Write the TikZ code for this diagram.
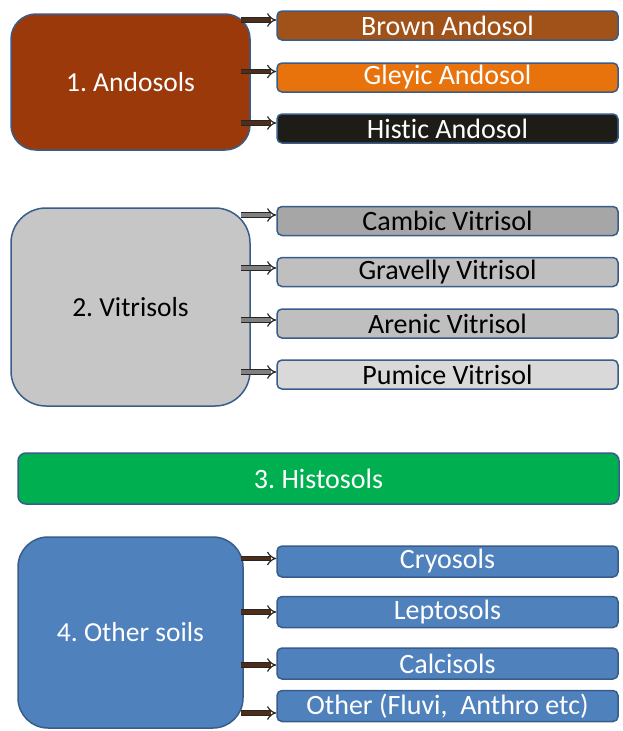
\documentclass[tikz,border=0pt]{standalone}
\usepackage{fontspec}
\setmainfont[Ligatures=NoCommon]{Carlito}
\frenchspacing
\usetikzlibrary{arrows.meta}
\definecolor{edge}{RGB}{56,93,138}
\definecolor{andoA}{RGB}{155,57,10}
\definecolor{andoB}{RGB}{160,82,25}
\definecolor{andoG}{RGB}{232,114,12}
\definecolor{andoH}{RGB}{30,28,22}
\definecolor{vitA}{RGB}{198,198,198}
\definecolor{vitC}{RGB}{166,166,166}
\definecolor{vitG}{RGB}{191,191,191}
\definecolor{vitP}{RGB}{217,217,217}
\definecolor{histo}{RGB}{0,176,80}
\definecolor{other}{RGB}{79,129,189}
\definecolor{arrbrown}{RGB}{80,45,25}
\tikzset{
  mainbox/.style={draw=edge, line width=1.5pt, minimum width=239pt, inner sep=0pt, font=\fontsize{27.5}{32}\selectfont},
  childbox/.style={draw=edge, line width=1.5pt, rounded corners=5pt, minimum width=341pt, minimum height=29pt, inner sep=0pt, font=\fontsize{28}{32}\selectfont},
  arr/.style={draw=black!85, line width=1.2pt, double distance=3.5pt, -{Implies}},
}
\begin{document}
\begin{tikzpicture}[x=1pt,y=-1pt]
\useasboundingbox[fill=white] (0,0) rectangle (622,731);
% group 1
\node[mainbox, fill=andoA, text=white, minimum height=136pt, rounded corners=25pt] (a) at (130.5,82) {1. Andosols};
\node[childbox, fill=andoB, text=white] (a1) at (447.5,25.5) {Brown Andosol};
\node[childbox, fill=andoG, text=white] (a2) at (447.5,77.5) {Gleyic Andosol};
\node[childbox, fill=andoH, text=white] (a3) at (447.5,128.5) {Histic Andosol};
\coordinate (ta1) at ([yshift=5.5pt]a1.west);
\coordinate (ta2) at ([yshift=6pt]a2.west);
\coordinate (ta3) at ([yshift=5.5pt]a3.west);
\draw[arr, double=arrbrown] ([xshift=-10pt]a.east |- ta1) -- (ta1);
\draw[arr, double=arrbrown] ([xshift=-10pt]a.east |- ta2) -- (ta2);
\draw[arr, double=arrbrown] ([xshift=-10pt]a.east |- ta3) -- (ta3);
% group 2
\node[mainbox, fill=vitA, text=black, minimum height=198pt, rounded corners=35pt] (v) at (130.5,307) {2. Vitrisols};
\node[childbox, fill=vitC] (v1) at (447.5,221) {Cambic Vitrisol};
\node[childbox, fill=vitG] (v2) at (447.5,272) {Gravelly Vitrisol};
\node[childbox, fill=vitG] (v3) at (447.5,323.5) {Arenic Vitrisol};
\node[childbox, fill=vitP] (v4) at (447.5,374.5) {Pumice Vitrisol};
\coordinate (tv1) at ([yshift=6pt]v1.west);
\coordinate (tv2) at ([yshift=4pt]v2.west);
\coordinate (tv3) at ([yshift=3.5pt]v3.west);
\coordinate (tv4) at ([yshift=2.5pt]v4.west);
\draw[arr, double=gray] ([xshift=-10pt]v.east |- tv1) -- (tv1);
\draw[arr, double=gray] ([xshift=-10pt]v.east |- tv2) -- (tv2);
\draw[arr, double=gray] ([xshift=-10pt]v.east |- tv3) -- (tv3);
\draw[arr, double=gray] ([xshift=-10pt]v.east |- tv4) -- (tv4);
% group 3
\node[draw=edge, line width=1.5pt, fill=histo, text=white, rounded corners=8pt, minimum width=601pt, minimum height=51pt, inner sep=0pt, font=\fontsize{28}{32}\selectfont] (h) at (318.5,478.5) {3. Histosols};
% group 4
\node[mainbox, fill=other, text=white, minimum width=225pt, minimum height=191pt, rounded corners=30pt] (o) at (130.5,632.5) {4. Other soils};
\node[childbox, fill=other, text=white, minimum height=31pt] (o1) at (447.5,561.5) {Cryosols};
\node[childbox, fill=other, text=white, minimum height=31pt] (o2) at (447.5,612) {Leptosols};
\node[childbox, fill=other, text=white, minimum height=31pt] (o3) at (447.5,663.5) {Calcisols};
\node[childbox, fill=other, text=white, minimum height=31pt] (o4) at (447.5,706) {Other (Fluvi,\ \ Anthro etc)};
\coordinate (to1) at ([yshift=3pt]o1.west);
\coordinate (to2) at (o2.west);
\coordinate (to3) at ([yshift=-1.5pt]o3.west);
\coordinate (to4) at ([yshift=-7pt]o4.west);
\draw[arr, double=arrbrown] ([xshift=-3pt]o.east |- to1) -- (to1);
\draw[arr, double=arrbrown] ([xshift=-3pt]o.east |- to2) -- (to2);
\draw[arr, double=arrbrown] ([xshift=-3pt]o.east |- to3) -- (to3);
\draw[arr, double=arrbrown] ([xshift=-3pt]o.east |- to4) -- (to4);
\end{tikzpicture}
\end{document}
